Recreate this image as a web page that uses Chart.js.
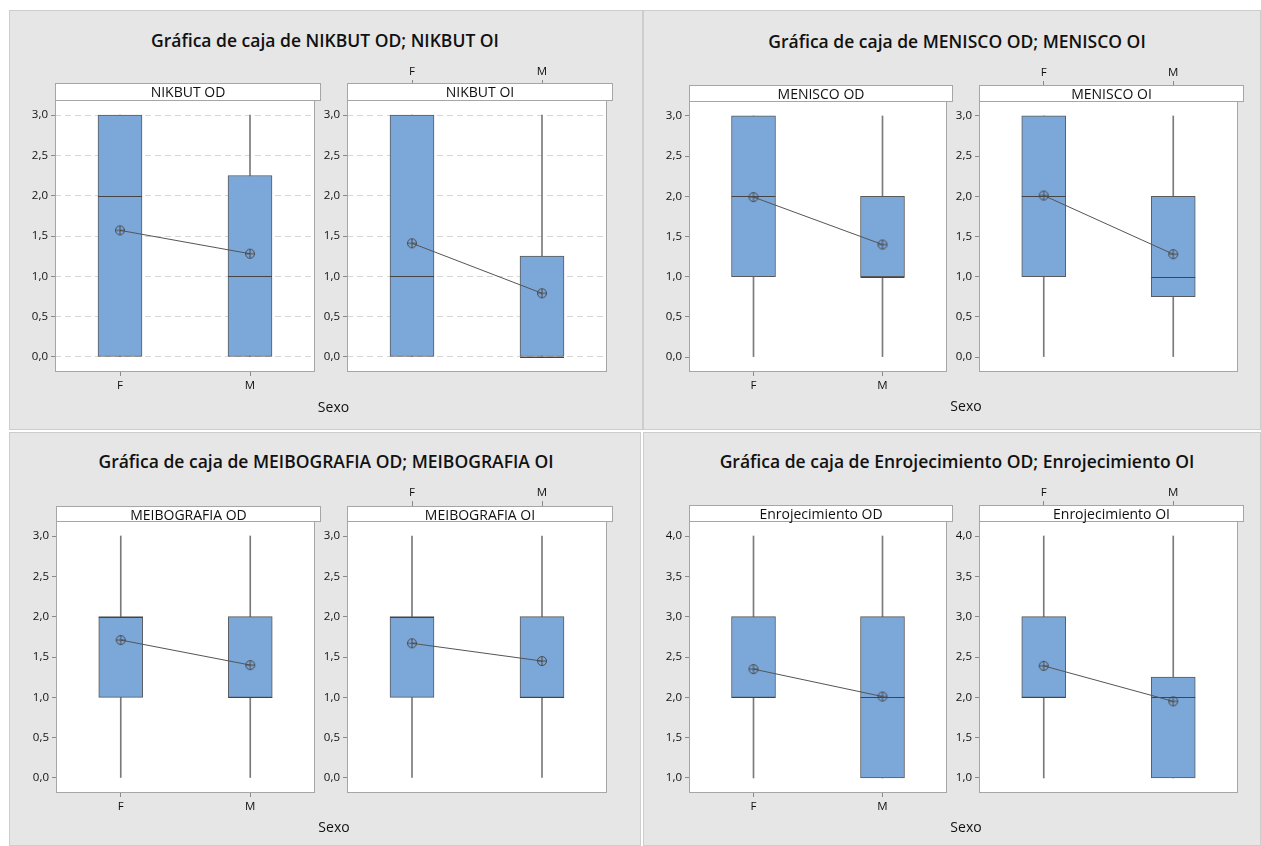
<!DOCTYPE html>
<html>
<head>
<meta charset="utf-8">
<script src="https://cdn.jsdelivr.net/npm/chart.js@4.4.1/dist/chart.umd.min.js"></script>
<style>
  body { margin: 0; background: #fff; width: 1261px; height: 846px; position: relative; overflow: hidden; font-family: "Open Sans", sans-serif; }
  .panel { position: absolute; background: #e6e6e6; border: 1px solid #cdcdcd; box-sizing: border-box; }
  .title { position: absolute; font-weight: 600; font-size: 17.5px; color: #111; white-space: nowrap; transform: translate(-50%, -50%); }
  .strip { position: absolute; background: #fff; border: 1px solid #a6a6a6; box-sizing: border-box; font-size: 14px; line-height: 15px; text-align: center; color: #111; z-index: 2; }
  .xlab { position: absolute; font-size: 14px; color: #111; transform: translate(-50%, -50%); }
  canvas { position: absolute; }
</style>
</head>
<body>
<script>
// grupos del eje x
const sexo = ['F', 'M'];

// resumen de cada caja: [min, Q1, mediana, Q3, max]
const nikbutOD_F = [0, 0, 2, 3, 3];
const nikbutOD_M = [0, 0, 1, 2.25, 3];
const nikbutOD_media = [1.57, 1.28];
const nikbutOI_F = [0, 0, 1, 3, 3];
const nikbutOI_M = [0, 0, 0, 1.25, 3];
const nikbutOI_media = [1.41, 0.79];

const meniscoOD_F = [0, 1, 2, 3, 3];
const meniscoOD_M = [0, 1, 1, 2, 3];
const meniscoOD_media = [1.99, 1.40];
const meniscoOI_F = [0, 1, 2, 3, 3];
const meniscoOI_M = [0, 0.75, 1, 2, 3];
const meniscoOI_media = [2.01, 1.28];

const meibOD_F = [0, 1, 2, 2, 3];
const meibOD_M = [0, 1, 1, 2, 3];
const meibOD_media = [1.71, 1.40];
const meibOI_F = [0, 1, 2, 2, 3];
const meibOI_M = [0, 1, 1, 2, 3];
const meibOI_media = [1.67, 1.45];

const enrojOD_F = [1, 2, 2, 3, 4];
const enrojOD_M = [1, 1, 2, 3, 4];
const enrojOD_media = [2.35, 2.01];
const enrojOI_F = [1, 2, 2, 3, 4];
const enrojOI_M = [1, 1, 2, 2.25, 4];
const enrojOI_media = [2.39, 1.95];

// marcas del eje y
const ticks0a3 = [0, 0.5, 1, 1.5, 2, 2.5, 3];
const ticks1a4 = [1, 1.5, 2, 2.5, 3, 3.5, 4];

const panels = [
  { box: [9, 10, 634, 420], title: 'Gráfica de caja de NIKBUT OD; NIKBUT OI', tx: 325, ty: 40,
    strip: 83, top: 100, bottom: 372, subs: [[55, 320], [347, 612]], sy: 406,
    names: ['NIKBUT OD', 'NIKBUT OI'], ticks: ticks0a3, grid: true,
    data: [[nikbutOD_F, nikbutOD_M, nikbutOD_media], [nikbutOI_F, nikbutOI_M, nikbutOI_media]] },
  { box: [643, 10, 618, 420], title: 'Gráfica de caja de MENISCO OD; MENISCO OI', tx: 957, ty: 41,
    strip: 85, top: 101, bottom: 372, subs: [[689, 952], [979, 1243]], sy: 405,
    names: ['MENISCO OD', 'MENISCO OI'], ticks: ticks0a3, grid: false,
    data: [[meniscoOD_F, meniscoOD_M, meniscoOD_media], [meniscoOI_F, meniscoOI_M, meniscoOI_media]] },
  { box: [9, 432, 632, 414], title: 'Gráfica de caja de MEIBOGRAFIA OD; MEIBOGRAFIA OI', tx: 326, ty: 461,
    strip: 506, top: 521, bottom: 793, subs: [[56, 320], [347, 612]], sy: 826,
    names: ['MEIBOGRAFIA OD', 'MEIBOGRAFIA OI'], ticks: ticks0a3, grid: false,
    data: [[meibOD_F, meibOD_M, meibOD_media], [meibOI_F, meibOI_M, meibOI_media]] },
  { box: [643, 432, 618, 414], title: 'Gráfica de caja de Enrojecimiento OD; Enrojecimiento OI', tx: 957, ty: 461,
    strip: 505, top: 521, bottom: 793, subs: [[689, 952], [979, 1243]], sy: 826,
    names: ['Enrojecimiento OD', 'Enrojecimiento OI'], ticks: ticks1a4, grid: false,
    data: [[enrojOD_F, enrojOD_M, enrojOD_media], [enrojOI_F, enrojOI_M, enrojOI_media]] }
];

const TOP_SPACE = 33, BOTTOM_SPACE = 26, Y_WIDTH = 36;
const font = { family: 'Open Sans', size: 11.5 };

function meanMarker() {
  const c = document.createElement('canvas');
  c.width = 12; c.height = 12;
  const g = c.getContext('2d');
  g.strokeStyle = '#4a4a4a';
  g.lineWidth = 1;
  g.beginPath(); g.arc(6, 6, 4.5, 0, Math.PI * 2); g.stroke();
  g.beginPath();
  g.moveTo(1.5, 6); g.lineTo(10.5, 6);
  g.moveTo(6, 1.5); g.lineTo(6, 10.5);
  g.stroke();
  return c;
}
const marker = meanMarker();

// white plot area and grey frame
const framePlugin = {
  id: 'frame',
  beforeDraw(chart) {
    const a = chart.chartArea, g = chart.ctx;
    g.save();
    g.fillStyle = '#fff';
    g.fillRect(a.left, a.top, a.width, a.height);
    g.restore();
  },
  afterDraw(chart) {
    const a = chart.chartArea, g = chart.ctx;
    g.save();
    g.strokeStyle = '#a6a6a6';
    g.lineWidth = 1;
    g.strokeRect(Math.round(a.left) + 0.5, Math.round(a.top) + 0.5, Math.round(a.width) - 1, Math.round(a.height) - 1);
    g.restore();
  }
};

// median line right after the boxes
const medianPlugin = {
  id: 'median',
  afterDatasetDraw(chart, args) {
    const ds = chart.data.datasets[args.index];
    if (!ds.medians) return;
    const y = chart.scales.y, g = chart.ctx;
    g.save();
    g.strokeStyle = '#444';
    g.lineWidth = 1;
    args.meta.data.forEach((bar, i) => {
      const py = Math.round(y.getPixelForValue(ds.medians[i])) + 0.5;
      g.beginPath();
      g.moveTo(bar.x - bar.width / 2, py);
      g.lineTo(bar.x + bar.width / 2, py);
      g.stroke();
    });
    g.restore();
  }
};

function addDiv(cls, text, css) {
  const d = document.createElement('div');
  d.className = cls;
  d.textContent = text;
  Object.assign(d.style, css);
  document.body.appendChild(d);
  return d;
}

function makeChart(p, k) {
  const [fL, fR] = p.subs[k];
  const [F, M, media] = p.data[k];
  const first = k === 0;
  const lo = p.ticks[0], hi = p.ticks[p.ticks.length - 1];
  const pad = (hi - lo) * 0.062;

  const cv = document.createElement('canvas');
  const w = fR - fL + Y_WIDTH + 1;
  const h = p.bottom - p.top + TOP_SPACE + BOTTOM_SPACE;
  cv.width = w; cv.height = h;
  cv.style.left = (fL - Y_WIDTH) + 'px';
  cv.style.top = (p.top - TOP_SPACE) + 'px';
  cv.style.width = w + 'px'; cv.style.height = h + 'px';
  document.body.appendChild(cv);

  addDiv('strip', p.names[k], {
    left: fL + 'px', top: p.strip + 'px',
    width: (fR - fL + 1) + 'px', height: (p.top - p.strip + 1) + 'px'
  });

  new Chart(cv, {
    type: 'bar',
    data: {
      labels: sexo,
      datasets: [
        { type: 'line', data: media, borderColor: '#555', borderWidth: 1,
          pointStyle: marker, pointRadius: 5, order: 0 },
        { data: [[F[1], F[3]], [M[1], M[3]]], medians: [F[2], M[2]],
          backgroundColor: '#7ba7d9', borderColor: '#5a5a5a', borderWidth: 1,
          borderSkipped: false, barThickness: 44, grouped: false, order: 1 },
        { data: [[F[0], F[4]], [M[0], M[4]]], backgroundColor: '#7a7a7a',
          barThickness: 1, grouped: false, order: 2 }
      ]
    },
    options: {
      responsive: false,
      animation: false,
      events: [],
      layout: { padding: { top: first ? TOP_SPACE : 0, bottom: first ? 0 : BOTTOM_SPACE, left: 0, right: 1 } },
      plugins: { legend: { display: false }, tooltip: { enabled: false } },
      scales: {
        x: {
          position: first ? 'bottom' : 'top',
          offset: true,
          grid: { offset: false, drawOnChartArea: false, tickLength: first ? 4 : 20, tickColor: '#8a8a8a' },
          border: { display: false },
          ticks: { color: '#111', font: font, padding: first ? 3 : 1, maxRotation: 0 },
          afterFit: s => { s.height = first ? BOTTOM_SPACE : TOP_SPACE; }
        },
        y: {
          min: lo - pad,
          max: hi + pad,
          afterBuildTicks: s => { s.ticks = p.ticks.map(v => ({ value: v })); },
          grid: { drawOnChartArea: p.grid, color: '#d6d6d6', tickLength: 4, tickColor: '#8a8a8a' },
          border: { display: false, dash: [6, 4] },
          ticks: { autoSkip: false, color: '#111', font: font, padding: 3,
                   callback: v => v.toFixed(1).replace('.', ',') },
          afterFit: s => { s.width = Y_WIDTH; }
        }
      }
    },
    plugins: [framePlugin, medianPlugin]
  });
}

panels.forEach(p => {
  const [x, y, w, h] = p.box;
  addDiv('panel', '', { left: x + 'px', top: y + 'px', width: w + 'px', height: h + 'px' });
  addDiv('title', p.title, { left: p.tx + 'px', top: p.ty + 'px' });
  makeChart(p, 0);
  makeChart(p, 1);
  addDiv('xlab', 'Sexo', { left: ((p.subs[0][0] + p.subs[1][1]) / 2) + 'px', top: p.sy + 'px' });
});
</script>
</body>
</html>
